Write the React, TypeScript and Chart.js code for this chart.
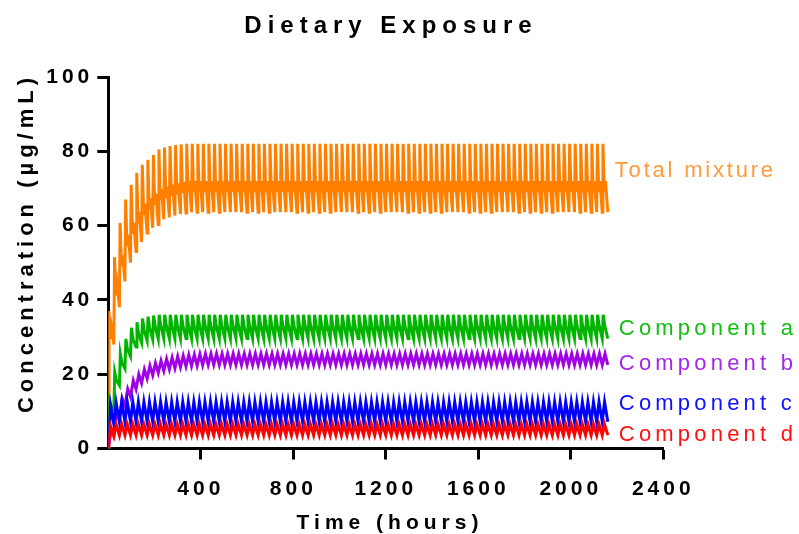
import React, { useEffect, useRef } from "react";
import { Chart, registerables } from "chart.js";

Chart.register(...registerables);

// Dosing schedule: one dietary dose every 24 h over 90 days.
const DOSE_INTERVAL_H = 24;

// Concentrations (µg/mL): level just before each dose (index k = time k*24 h),
// the post-dose peak, and intermediate levels within each dosing interval.
const totalTrough = [
  0, 28, 38, 45, 50, 53, 55.6, 58, 59.4, 60.3,
  61.7, 62.2, 62.7, 63.1, 63.4, 63.6, 63.6, 63.6, 63.6, 63.6,
  63.6, 63.6, 63.6, 63.6, 63.6, 63.6, 63.6, 63.6, 63.6, 63.6,
  63.6, 63.6, 63.6, 63.6, 63.6, 63.6, 63.6, 63.6, 63.6, 63.6,
  63.6, 63.6, 63.6, 63.6, 63.6, 63.6, 63.6, 63.6, 63.6, 63.6,
  63.6, 63.6, 63.6, 63.6, 63.6, 63.6, 63.6, 63.6, 63.6, 63.6,
  63.6, 63.6, 63.6, 63.6, 63.6, 63.6, 63.6, 63.6, 63.6, 63.6,
  63.6, 63.6, 63.6, 63.6, 63.6, 63.6, 63.6, 63.6, 63.6, 63.6,
  63.6, 63.6, 63.6, 63.6, 63.6, 63.6, 63.6, 63.6, 63.6, 63.6,
  63.6,
];
const totalPeak = [
  37, 51.5, 60.7, 67, 71, 74.2, 76.4, 77.7, 79, 80.5,
  81, 81.4, 81.7, 81.9, 82, 82, 82, 82, 82, 82,
  82, 82, 82, 82, 82, 82, 82, 82, 82, 82,
  82, 82, 82, 82, 82, 82, 82, 82, 82, 82,
  82, 82, 82, 82, 82, 82, 82, 82, 82, 82,
  82, 82, 82, 82, 82, 82, 82, 82, 82, 82,
  82, 82, 82, 82, 82, 82, 82, 82, 82, 82,
  82, 82, 82, 82, 82, 82, 82, 82, 82, 82,
  82, 82, 82, 82, 82, 82, 82, 82, 82, 82,
];
const totalDip = [
  29.5, 41.2, 49, 54.5, 57.8, 60.6, 62.9, 64.4, 65.6, 66.9,
  67.5, 68, 68.4, 68.8, 69, 69, 69, 69, 69, 69,
  69, 69, 69, 69, 69, 69, 69, 69, 69, 69,
  69, 69, 69, 69, 69, 69, 69, 69, 69, 69,
  69, 69, 69, 69, 69, 69, 69, 69, 69, 69,
  69, 69, 69, 69, 69, 69, 69, 69, 69, 69,
  69, 69, 69, 69, 69, 69, 69, 69, 69, 69,
  69, 69, 69, 69, 69, 69, 69, 69, 69, 69,
  69, 69, 69, 69, 69, 69, 69, 69, 69, 69,
];
const totalHump = [
  32.5, 44.2, 52, 57.5, 60.8, 63.6, 65.9, 67.4, 68.6, 69.9,
  70.5, 71, 71.4, 71.8, 72, 72, 72, 72, 72, 72,
  72, 72, 72, 72, 72, 72, 72, 72, 72, 72,
  72, 72, 72, 72, 72, 72, 72, 72, 72, 72,
  72, 72, 72, 72, 72, 72, 72, 72, 72, 72,
  72, 72, 72, 72, 72, 72, 72, 72, 72, 72,
  72, 72, 72, 72, 72, 72, 72, 72, 72, 72,
  72, 72, 72, 72, 72, 72, 72, 72, 72, 72,
  72, 72, 72, 72, 72, 72, 72, 72, 72, 72,
];

const compATrough = [
  0, 10.5, 17, 21.5, 24.8, 27.3, 28.5, 29, 29.4, 29.5,
  29.6, 29.6, 29.6, 29.6, 29.6, 29.6, 29.6, 29.6, 29.6, 29.6,
  29.6, 29.6, 29.6, 29.6, 29.6, 29.6, 29.6, 29.6, 29.6, 29.6,
  29.6, 29.6, 29.6, 29.6, 29.6, 29.6, 29.6, 29.6, 29.6, 29.6,
  29.6, 29.6, 29.6, 29.6, 29.6, 29.6, 29.6, 29.6, 29.6, 29.6,
  29.6, 29.6, 29.6, 29.6, 29.6, 29.6, 29.6, 29.6, 29.6, 29.6,
  29.6, 29.6, 29.6, 29.6, 29.6, 29.6, 29.6, 29.6, 29.6, 29.6,
  29.6, 29.6, 29.6, 29.6, 29.6, 29.6, 29.6, 29.6, 29.6, 29.6,
  29.6, 29.6, 29.6, 29.6, 29.6, 29.6, 29.6, 29.6, 29.6, 29.6,
  29.6,
];
const compAPeak = [
  13, 20.5, 25.5, 29.5, 32.5, 34, 35, 35.5, 35.8, 36,
  36, 36, 36, 36, 36, 36, 36, 36, 36, 36,
  36, 36, 36, 36, 36, 36, 36, 36, 36, 36,
  36, 36, 36, 36, 36, 36, 36, 36, 36, 36,
  36, 36, 36, 36, 36, 36, 36, 36, 36, 36,
  36, 36, 36, 36, 36, 36, 36, 36, 36, 36,
  36, 36, 36, 36, 36, 36, 36, 36, 36, 36,
  36, 36, 36, 36, 36, 36, 36, 36, 36, 36,
  36, 36, 36, 36, 36, 36, 36, 36, 36, 36,
];
const compAMid = [
  11.5, 18.4, 23.1, 26.7, 29.4, 30.9, 31.8, 32.4, 32.8, 33,
  33, 33, 33, 33, 33, 33, 33, 33, 33, 33,
  33, 33, 33, 33, 33, 33, 33, 33, 33, 33,
  33, 33, 33, 33, 33, 33, 33, 33, 33, 33,
  33, 33, 33, 33, 33, 33, 33, 33, 33, 33,
  33, 33, 33, 33, 33, 33, 33, 33, 33, 33,
  33, 33, 33, 33, 33, 33, 33, 33, 33, 33,
  33, 33, 33, 33, 33, 33, 33, 33, 33, 33,
  33, 33, 33, 33, 33, 33, 33, 33, 33, 33,
];

const compBTrough = [
  0, 3.5, 8.3, 11.5, 13.9, 16, 17.6, 18.8, 19.7, 20.4,
  20.9, 21.3, 21.6, 21.9, 22.1, 22.2, 22.3, 22.4, 22.5, 22.5,
  22.5, 22.5, 22.5, 22.5, 22.5, 22.5, 22.5, 22.5, 22.5, 22.5,
  22.5, 22.5, 22.5, 22.5, 22.5, 22.5, 22.5, 22.5, 22.5, 22.5,
  22.5, 22.5, 22.5, 22.5, 22.5, 22.5, 22.5, 22.5, 22.5, 22.5,
  22.5, 22.5, 22.5, 22.5, 22.5, 22.5, 22.5, 22.5, 22.5, 22.5,
  22.5, 22.5, 22.5, 22.5, 22.5, 22.5, 22.5, 22.5, 22.5, 22.5,
  22.5, 22.5, 22.5, 22.5, 22.5, 22.5, 22.5, 22.5, 22.5, 22.5,
  22.5, 22.5, 22.5, 22.5, 22.5, 22.5, 22.5, 22.5, 22.5, 22.5,
  22.5,
];
const compBPeak = [
  5, 10, 13.5, 16, 18.3, 20, 21.3, 22.3, 23, 23.6,
  24.1, 24.5, 24.8, 25, 25.2, 25.3, 25.4, 25.5, 25.5, 25.5,
  25.5, 25.5, 25.5, 25.5, 25.5, 25.5, 25.5, 25.5, 25.5, 25.5,
  25.5, 25.5, 25.5, 25.5, 25.5, 25.5, 25.5, 25.5, 25.5, 25.5,
  25.5, 25.5, 25.5, 25.5, 25.5, 25.5, 25.5, 25.5, 25.5, 25.5,
  25.5, 25.5, 25.5, 25.5, 25.5, 25.5, 25.5, 25.5, 25.5, 25.5,
  25.5, 25.5, 25.5, 25.5, 25.5, 25.5, 25.5, 25.5, 25.5, 25.5,
  25.5, 25.5, 25.5, 25.5, 25.5, 25.5, 25.5, 25.5, 25.5, 25.5,
  25.5, 25.5, 25.5, 25.5, 25.5, 25.5, 25.5, 25.5, 25.5, 25.5,
];

const compCTrough = [
  0, 6.5, 7.1, 7.2, 7.2, 7.2, 7.2, 7.2, 7.2, 7.2,
  7.2, 7.2, 7.2, 7.2, 7.2, 7.2, 7.2, 7.2, 7.2, 7.2,
  7.2, 7.2, 7.2, 7.2, 7.2, 7.2, 7.2, 7.2, 7.2, 7.2,
  7.2, 7.2, 7.2, 7.2, 7.2, 7.2, 7.2, 7.2, 7.2, 7.2,
  7.2, 7.2, 7.2, 7.2, 7.2, 7.2, 7.2, 7.2, 7.2, 7.2,
  7.2, 7.2, 7.2, 7.2, 7.2, 7.2, 7.2, 7.2, 7.2, 7.2,
  7.2, 7.2, 7.2, 7.2, 7.2, 7.2, 7.2, 7.2, 7.2, 7.2,
  7.2, 7.2, 7.2, 7.2, 7.2, 7.2, 7.2, 7.2, 7.2, 7.2,
  7.2, 7.2, 7.2, 7.2, 7.2, 7.2, 7.2, 7.2, 7.2, 7.2,
  7.2,
];
const compCPeak = [
  11.5, 12.3, 12.5, 12.5, 12.5, 12.5, 12.5, 12.5, 12.5, 12.5,
  12.5, 12.5, 12.5, 12.5, 12.5, 12.5, 12.5, 12.5, 12.5, 12.5,
  12.5, 12.5, 12.5, 12.5, 12.5, 12.5, 12.5, 12.5, 12.5, 12.5,
  12.5, 12.5, 12.5, 12.5, 12.5, 12.5, 12.5, 12.5, 12.5, 12.5,
  12.5, 12.5, 12.5, 12.5, 12.5, 12.5, 12.5, 12.5, 12.5, 12.5,
  12.5, 12.5, 12.5, 12.5, 12.5, 12.5, 12.5, 12.5, 12.5, 12.5,
  12.5, 12.5, 12.5, 12.5, 12.5, 12.5, 12.5, 12.5, 12.5, 12.5,
  12.5, 12.5, 12.5, 12.5, 12.5, 12.5, 12.5, 12.5, 12.5, 12.5,
  12.5, 12.5, 12.5, 12.5, 12.5, 12.5, 12.5, 12.5, 12.5, 12.5,
];

const compDTrough = [
  0, 3.3, 3.5, 3.6, 3.6, 3.6, 3.6, 3.6, 3.6, 3.6,
  3.6, 3.6, 3.6, 3.6, 3.6, 3.6, 3.6, 3.6, 3.6, 3.6,
  3.6, 3.6, 3.6, 3.6, 3.6, 3.6, 3.6, 3.6, 3.6, 3.6,
  3.6, 3.6, 3.6, 3.6, 3.6, 3.6, 3.6, 3.6, 3.6, 3.6,
  3.6, 3.6, 3.6, 3.6, 3.6, 3.6, 3.6, 3.6, 3.6, 3.6,
  3.6, 3.6, 3.6, 3.6, 3.6, 3.6, 3.6, 3.6, 3.6, 3.6,
  3.6, 3.6, 3.6, 3.6, 3.6, 3.6, 3.6, 3.6, 3.6, 3.6,
  3.6, 3.6, 3.6, 3.6, 3.6, 3.6, 3.6, 3.6, 3.6, 3.6,
  3.6, 3.6, 3.6, 3.6, 3.6, 3.6, 3.6, 3.6, 3.6, 3.6,
  3.6,
];
const compDPeak = [
  6, 6.4, 6.5, 6.5, 6.5, 6.5, 6.5, 6.5, 6.5, 6.5,
  6.5, 6.5, 6.5, 6.5, 6.5, 6.5, 6.5, 6.5, 6.5, 6.5,
  6.5, 6.5, 6.5, 6.5, 6.5, 6.5, 6.5, 6.5, 6.5, 6.5,
  6.5, 6.5, 6.5, 6.5, 6.5, 6.5, 6.5, 6.5, 6.5, 6.5,
  6.5, 6.5, 6.5, 6.5, 6.5, 6.5, 6.5, 6.5, 6.5, 6.5,
  6.5, 6.5, 6.5, 6.5, 6.5, 6.5, 6.5, 6.5, 6.5, 6.5,
  6.5, 6.5, 6.5, 6.5, 6.5, 6.5, 6.5, 6.5, 6.5, 6.5,
  6.5, 6.5, 6.5, 6.5, 6.5, 6.5, 6.5, 6.5, 6.5, 6.5,
  6.5, 6.5, 6.5, 6.5, 6.5, 6.5, 6.5, 6.5, 6.5, 6.5,
];

// Axis ticks
const xTicks = [0, 400, 800, 1200, 1600, 2000, 2400];
const yTicks = [0, 20, 40, 60, 80, 100];

const FONT = '"Liberation Sans", Arial, Helvetica, sans-serif';

type Pt = { x: number; y: number };

// Turns per-dose levels into a time profile: the pre-dose level at each dose time,
// followed by each [hours after dose, levels] pair within the interval.
function buildProfile(trough: number[], within: Array<[number, number[]]>): Pt[] {
  const pts: Pt[] = [];
  const doses = within[0][1].length;
  for (let k = 0; k < doses; k++) {
    const t0 = k * DOSE_INTERVAL_H;
    pts.push({ x: t0, y: trough[k] });
    for (const [lag, vals] of within) pts.push({ x: t0 + lag, y: vals[k] });
  }
  pts.push({ x: doses * DOSE_INTERVAL_H, y: trough[doses] });
  return pts;
}

const series = [
  { name: "Component d", line: "#FF0000", text: "#FF1010", pts: buildProfile(compDTrough, [[10, compDPeak]]), anchor: 2.0, dx: 11, spacing: 4.2 },
  { name: "Component c", line: "#0000FF", text: "#1010FF", pts: buildProfile(compCTrough, [[10, compCPeak]]), anchor: 10.4, dx: 11, spacing: 4.2 },
  { name: "Component b", line: "#A000E6", text: "#A626E8", pts: buildProfile(compBTrough, [[12, compBPeak]]), anchor: 21.1, dx: 11, spacing: 4.2 },
  { name: "Component a", line: "#00B400", text: "#10C010", pts: buildProfile(compATrough, [[4, compAPeak], [11, compAMid]]), anchor: 30.55, dx: 11, spacing: 4.2 },
  { name: "Total mixture", line: "#FF8000", text: "#FF9A3C", pts: buildProfile(totalTrough, [[3, totalPeak], [9, totalDip], [14, totalHump]]), anchor: 73.2, dx: 7, spacing: 2.8 },
];

const LAST_TIME = compAPeak.length * DOSE_INTERVAL_H;

const textPlugin = {
  id: "dietaryText",
  beforeDraw(chart: any) {
    // spacing used by the axis tick labels
    chart.ctx.letterSpacing = "4px";
  },
  afterDraw(chart: any) {
    const ctx = chart.ctx as CanvasRenderingContext2D & { letterSpacing: string };
    const xs = chart.scales.x;
    const ys = chart.scales.y;
    ctx.save();
    ctx.fillStyle = "#000";
    ctx.textBaseline = "alphabetic";

    // Title
    ctx.font = `bold 24px ${FONT}`;
    ctx.letterSpacing = "6px";
    ctx.textAlign = "center";
    ctx.fillText("Dietary Exposure", 391, 33);

    // X axis title
    ctx.font = `bold 21px ${FONT}`;
    ctx.letterSpacing = "5px";
    ctx.fillText("Time (hours)", 390, 529);

    // Y axis title
    ctx.save();
    ctx.translate(33, 245.5);
    ctx.rotate(-Math.PI / 2);
    ctx.font = `bold 22px ${FONT}`;
    ctx.letterSpacing = "5px";
    ctx.fillText("Concentration (µg/mL)", 2.5, 0);
    ctx.restore();

    // Series labels at the end of each profile
    ctx.textAlign = "left";
    ctx.font = `22px ${FONT}`;
    const xEnd = xs.getPixelForValue(LAST_TIME);
    for (const s of series) {
      ctx.letterSpacing = `${s.spacing}px`;
      ctx.fillStyle = s.text;
      ctx.fillText(s.name, xEnd + s.dx, ys.getPixelForValue(s.anchor));
    }
    ctx.restore();
    ctx.letterSpacing = "0px";
  },
};

export default function App() {
  const canvasRef = useRef<HTMLCanvasElement | null>(null);

  useEffect(() => {
    const canvas = canvasRef.current;
    if (!canvas) return;
    const chart = new Chart(canvas, {
      type: "line",
      data: {
        datasets: series.map((s) => ({
          label: s.name,
          data: s.pts,
          borderColor: s.line,
          backgroundColor: s.line,
          borderWidth: 3,
          pointRadius: 0,
          tension: 0,
          fill: false,
        })),
      },
      options: {
        animation: false,
        responsive: false,
        devicePixelRatio: 1,
        parsing: false,
        normalized: true,
        layout: { padding: { left: 0, right: 799 - 663.3, top: 77, bottom: 0 } },
        plugins: {
          legend: { display: false },
          tooltip: { enabled: false },
          title: { display: false },
        },
        scales: {
          x: {
            type: "linear",
            min: xTicks[0],
            max: xTicks[xTicks.length - 1],
            afterFit: (s: any) => {
              s.height = 534 - 448.5;
            },
            afterBuildTicks: (s: any) => {
              s.ticks = xTicks.map((v) => ({ value: v }));
            },
            ticks: {
              color: "#000",
              font: { family: FONT, size: 21, weight: "bold" },
              padding: 17,
              maxRotation: 0,
              autoSkip: false,
              callback: (v: any) => (v === 0 ? "" : String(v)),
            },
            grid: {
              drawOnChartArea: false,
              tickLength: 11,
              tickWidth: 3,
              tickColor: (c: any) => (c.tick && c.tick.value === 0 ? "rgba(0,0,0,0)" : "#000"),
            },
            border: { color: "#000", width: 3 },
          },
          y: {
            type: "linear",
            min: yTicks[0],
            max: yTicks[yTicks.length - 1],
            afterFit: (s: any) => {
              s.width = 108.3;
            },
            afterBuildTicks: (s: any) => {
              s.ticks = yTicks.map((v) => ({ value: v }));
            },
            ticks: {
              color: "#000",
              font: { family: FONT, size: 21, weight: "bold" },
              padding: 4,
              autoSkip: false,
            },
            grid: {
              drawOnChartArea: false,
              tickLength: 11,
              tickWidth: 3,
              tickColor: "#000",
            },
            border: { color: "#000", width: 3 },
          },
        },
      } as any,
      plugins: [textPlugin],
    });
    return () => chart.destroy();
  }, []);

  return (
    <div style={{ position: "absolute", left: 0, top: 0, width: 799, height: 534, background: "#fff" }}>
      <canvas ref={canvasRef} width={799} height={534} />
    </div>
  );
}
